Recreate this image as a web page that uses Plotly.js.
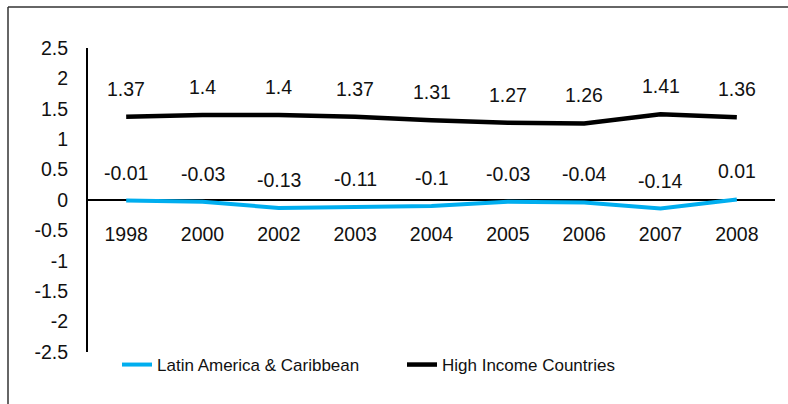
<!DOCTYPE html>
<html>
<head>
<meta charset="utf-8">
<script src="https://cdn.plot.ly/plotly-3.0.1.min.js"></script>
<style>html,body{margin:0;padding:0;background:#fff;}#chart{width:788px;height:404px;}</style>
</head>
<body>
<div id="chart"></div>
<script>
var years = ['1998','2000','2002','2003','2004','2005','2006','2007','2008'];
var latinAmerica = [-0.01,-0.03,-0.13,-0.11,-0.1,-0.03,-0.04,-0.14,0.01];
var highIncome = [1.37,1.4,1.4,1.37,1.31,1.27,1.26,1.41,1.36];
var yTicks = [-2.5,-2,-1.5,-1,-0.5,0,0.5,1,1.5,2,2.5];

var FONT = '"Liberation Sans", Arial, sans-serif';
var NUMSIZE = 19.5;

var traces = [
  {x: years, y: latinAmerica, type: 'scatter', mode: 'lines', name: 'Latin America & Caribbean',
   line: {color: '#00AEEF', width: 4}},
  {x: years, y: highIncome, type: 'scatter', mode: 'lines', name: 'High Income Countries',
   line: {color: '#000000', width: 4.5}}
];

var annotations = [];
function addLabels(vals) {
  vals.forEach(function(v, i) {
    annotations.push({x: i, y: v, xref: 'x', yref: 'y', text: String(v),
      showarrow: false, yshift: 28, font: {family: FONT, size: NUMSIZE, color: '#111'}});
  });
}
addLabels(latinAmerica);
addLabels(highIncome);

var layout = {
  width: 788, height: 404,
  margin: {l: 88, r: 13, t: 48, b: 52},
  paper_bgcolor: '#fff', plot_bgcolor: '#fff',
  showlegend: true,
  font: {family: FONT, size: NUMSIZE, color: '#111'},
  xaxis: {type: 'category', range: [-0.5, 8.5], showgrid: false, showline: false, zeroline: false,
    ticks: '', anchor: 'free', position: 0.5, ticklabelstandoff: 20, automargin: false,
    tickfont: {family: FONT, size: NUMSIZE, color: '#111'}},
  yaxis: {range: [-2.5, 2.5], tickvals: yTicks, ticktext: yTicks.map(String), showgrid: false,
    showline: true, linecolor: '#000', linewidth: 2, zeroline: true, zerolinecolor: '#000', zerolinewidth: 2,
    ticks: '', ticklabelstandoff: 14, automargin: false, tickfont: {family: FONT, size: NUMSIZE, color: '#111'}},
  legend: {orientation: 'h', x: 29/687, xanchor: 'left', y: -13/304, yanchor: 'middle',
    font: {family: FONT, size: 17, color: '#111'}, entrywidth: 240, entrywidthmode: 'pixels',
    bgcolor: 'rgba(0,0,0,0)'},
  annotations: annotations,
  shapes: [
    {type: 'line', xref: 'paper', yref: 'paper', x0: -80/687, x1: 1.05, y0: 1 + 41/304, y1: 1 + 41/304,
     line: {color: '#333', width: 1.5}},
    {type: 'line', xref: 'paper', yref: 'paper', x0: -80/687, x1: -80/687, y0: 1 + 41/304, y1: -0.2,
     line: {color: '#333', width: 1.5}}
  ]
};

Plotly.newPlot('chart', traces, layout, {staticPlot: true, displayModeBar: false});
</script>
</body>
</html>
